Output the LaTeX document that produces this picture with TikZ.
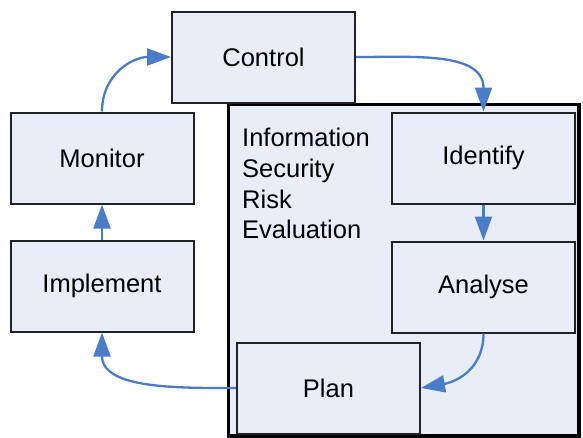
\documentclass[tikz,border=0pt]{standalone}
\usepackage{fontspec}
\setmainfont{Liberation Sans}
\usetikzlibrary{arrows.meta}
\definecolor{boxfill}{HTML}{E8EDF7}
\definecolor{flowblue}{HTML}{4A7CC9}
\definecolor{boxline}{HTML}{222222}
\begin{document}
\begin{tikzpicture}[x=1pt,y=-1pt,
  stepbox/.style={draw=boxline,line width=2pt,fill=boxfill,minimum width=183pt,minimum height=91pt,inner sep=0pt,font=\fontsize{25.5}{31}\selectfont},
  flow/.style={draw=flowblue,line width=2.3pt,-{Triangle[length=24pt,width=17pt]}}]
\useasboundingbox (0,0) rectangle (583,437);
\fill[white] (0,0) rectangle (583,437);
% evaluation frame
\draw[line width=3.5pt,fill=boxfill] (228.5,104.5) rectangle (579,436);
\node[anchor=north west,align=left,inner sep=0pt,font=\fontsize{25.5}{30.7}\selectfont] (eval) at (242,128)
  {Information\\Security\\Risk\\Evaluation};
% process steps
\node[stepbox] (ctl) at (263.5,57) {Control};
\node[stepbox] (mon) at (102,158) {Monitor};
\node[stepbox] (idf) at (483.5,158) {Identify};
\node[stepbox] (imp) at (102,286) {Implement};
\node[stepbox] (ana) at (483.5,287) {Analyse};
\node[stepbox] (pln) at (328.5,388) {Plan};
% cycle connectors
\draw[flow] (mon.north) to[out=90,in=180,looseness=1.1] (ctl.west);
\draw[flow] (ctl.east) to[out=0,in=90,looseness=1.1] (idf.north);
\draw[flow] (idf.south) -- (ana.north);
\draw[flow] (ana.south) to[out=-90,in=10,looseness=1.1] (pln.east);
\draw[flow] (pln.west) to[out=180,in=-90,looseness=1] (imp.south);
\draw[flow] (imp.north) -- (mon.south);
\end{tikzpicture}
\end{document}
